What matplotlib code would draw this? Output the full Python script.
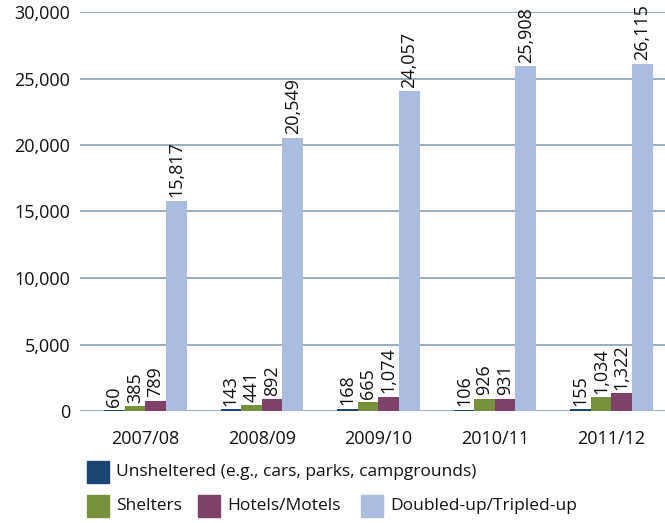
import matplotlib
matplotlib.use("Agg")
import matplotlib.pyplot as plt
from matplotlib.patches import Rectangle
from matplotlib.ticker import FuncFormatter
import numpy as np

plt.rcParams['font.family'] = ['Open Sans', 'DejaVu Sans']

years = ["2007/08", "2008/09", "2009/10", "2010/11", "2011/12"]
unsheltered = [60, 143, 168, 106, 155]
shelters = [385, 441, 665, 926, 1034]
hotels = [789, 892, 1074, 931, 1322]
doubled_up = [15817, 20549, 24057, 25908, 26115]

series_names = ["Unsheltered (e.g., cars, parks, campgrounds)", "Shelters",
                "Hotels/Motels", "Doubled-up/Tripled-up"]
colors = ["#1b4674", "#76923c", "#7e4268", "#aabde1"]
series = [unsheltered, shelters, hotels, doubled_up]

W, H = 665, 523
fig = plt.figure(figsize=(W / 100, H / 100), dpi=100)
ax = fig.add_axes([80 / W, 1 - 411 / H, 1 - 80 / W, (411 - 12) / H])

x = np.arange(len(years))
bw = 0.177
for i, (vals, c) in enumerate(zip(series, colors)):
    pos = x + (i - 1.5) * bw
    ax.bar(pos, vals, width=bw, color=c, zorder=3)
    for p, v in zip(pos, vals):
        ax.text(p, v + 250, f"{v:,}", rotation=90, ha="center", va="bottom",
                fontsize=13, color="#111111", zorder=4)

ax.set_ylim(0, 30000)
ax.set_xlim(-0.56, 4.46)
ax.set_yticks(range(0, 30001, 5000))
ax.yaxis.set_major_formatter(FuncFormatter(lambda v, _: f"{int(v):,}"))
ax.set_xticks(x)
ax.set_xticklabels(years)
ax.tick_params(axis="both", length=0, labelsize=13, colors="#111111")
ax.tick_params(axis="y", pad=7)
ax.tick_params(axis="x", pad=14)
ax.grid(axis="y", color="#90a6bc", linewidth=1.3, zorder=0)
for s in ax.spines.values():
    s.set_visible(False)

# legend drawn in figure pixel coordinates
def legend_item(px, py, color, label):
    fig.patches.append(Rectangle((px / W, 1 - (py + 11) / H), 22 / W, 22 / H,
                                 transform=fig.transFigure, color=color))
    fig.text((px + 29) / W, 1 - py / H, label, fontsize=12.5, va="center",
             ha="left", color="#111111")

legend_item(87, 472, colors[0], series_names[0])
legend_item(87, 506, colors[1], series_names[1])
legend_item(198, 506, colors[2], series_names[2])
legend_item(361, 506, colors[3], series_names[3])

fig.savefig("out.png", dpi=100)
